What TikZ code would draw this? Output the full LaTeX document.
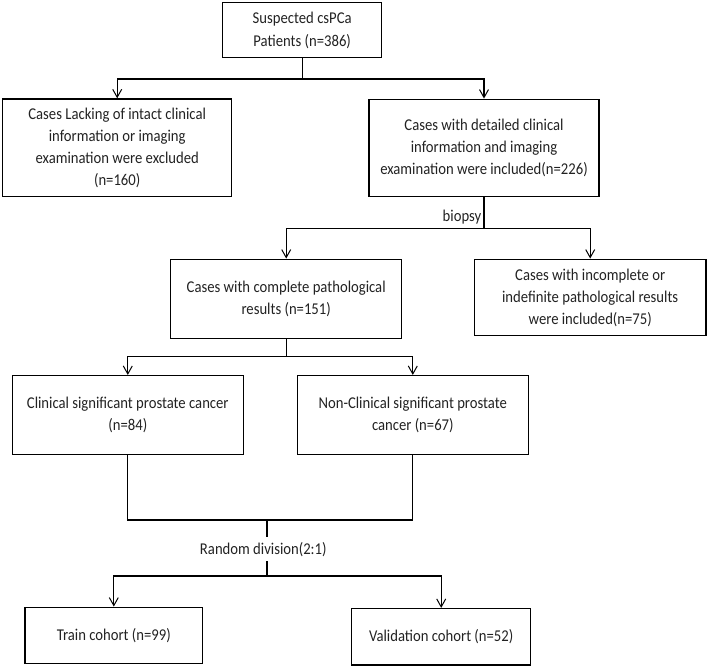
\documentclass[tikz,border=0pt]{standalone}
\usepackage{fontspec}
\setmainfont{Carlito}[FakeStretch=0.89]
\usetikzlibrary{arrows.meta,calc}
\definecolor{txt}{HTML}{222222}
\begin{document}
\begin{tikzpicture}[x=1pt,y=-1pt,
  box/.style={draw, line width=1.5pt, inner sep=0pt, align=center, text=txt,
    font=\fontsize{16.5}{22}\selectfont},
  lbl/.style={inner sep=0pt, text=txt, font=\fontsize{16.5}{22}\selectfont},
  ln/.style={line width=1.3pt},
  arr/.style={ln, -{Straight Barb[length=8pt,width=9pt,line width=1pt]}}]
\useasboundingbox (0,0) rectangle (708,668);
\node[box, minimum width=159pt, minimum height=55pt] (b1) at (302.2,30.2)
  {Suspected csPCa\\[1pt]Patients (n=386)};
\node[box, minimum width=229pt, minimum height=97.7pt] (b2) at (117.2,147.9)
  {Cases Lacking of intact clinical\\information or imaging\\examination were excluded\\(n=160)};
\node[box, minimum width=230pt, minimum height=97.4pt] (b3) at (484,148)
  {Cases with detailed clinical\\information and imaging\\examination were included(n=226)};
\node[box, minimum width=231pt, minimum height=79pt] (b4) at (286.2,298.8)
  {Cases with complete pathological\\results (n=151)};
\node[box, minimum width=231.7pt, minimum height=76.4pt] (b5) at (590.2,297.5)
  {Cases with incomplete or\\indefinite pathological results\\were included(n=75)};
\node[box, minimum width=231pt, minimum height=78.6pt] (b6) at (127.8,415)
  {Clinical significant prostate cancer\\(n=84)};
\node[box, minimum width=231pt, minimum height=78.6pt] (b7) at (412.8,415)
  {Non-Clinical significant prostate\\cancer (n=67)};
\node[box, minimum width=177.7pt, minimum height=56pt] (b8) at (113.8,635.3)
  {Train cohort (n=99)};
\node[box, minimum width=179pt, minimum height=56.3pt] (b9) at (441.2,636.8)
  {Validation cohort (n=52)};

% top split
\coordinate (j1) at (302.2,79);
\draw[ln] (b1.south) -- (j1);
\draw[arr] (j1) -| (b2.north);
\draw[arr] (j1) -| (b3.north);

% biopsy split
\coordinate (j2) at (484,228.5);
\draw[ln] (b3.south) -- (j2);
\node[lbl, anchor=east] (bl) at (481.5,216.7) {biopsy};
\draw[arr] (j2) -| (b4.north);
\draw[arr] (j2) -| (b5.north);

% pathological split
\coordinate (j3) at (286.2,356.7);
\draw[ln] (b4.south) -- (j3);
\draw[arr] (j3) -| (b6.north);
\draw[arr] (j3) -| (b7.north);

% join
\coordinate (k6) at (127.8,520);
\coordinate (k7) at (412.8,520);
\draw[ln] (b6.south) -- (k6) -- (k7) -- (b7.south);
\coordinate (j4) at (267,520);
\node[lbl] (rd) at (263.3,549.3) {Random division(2:1)};
\coordinate (j4b) at (267,537);
\coordinate (j5a) at (267,561);
\coordinate (j5) at (267,576);
\draw[ln] (j4) -- (j4b);
\draw[ln] (j5a) -- (j5);
\draw[arr] (j5) -| (b8.north);
\draw[arr] (j5) -| (b9.north);
\end{tikzpicture}
\end{document}
